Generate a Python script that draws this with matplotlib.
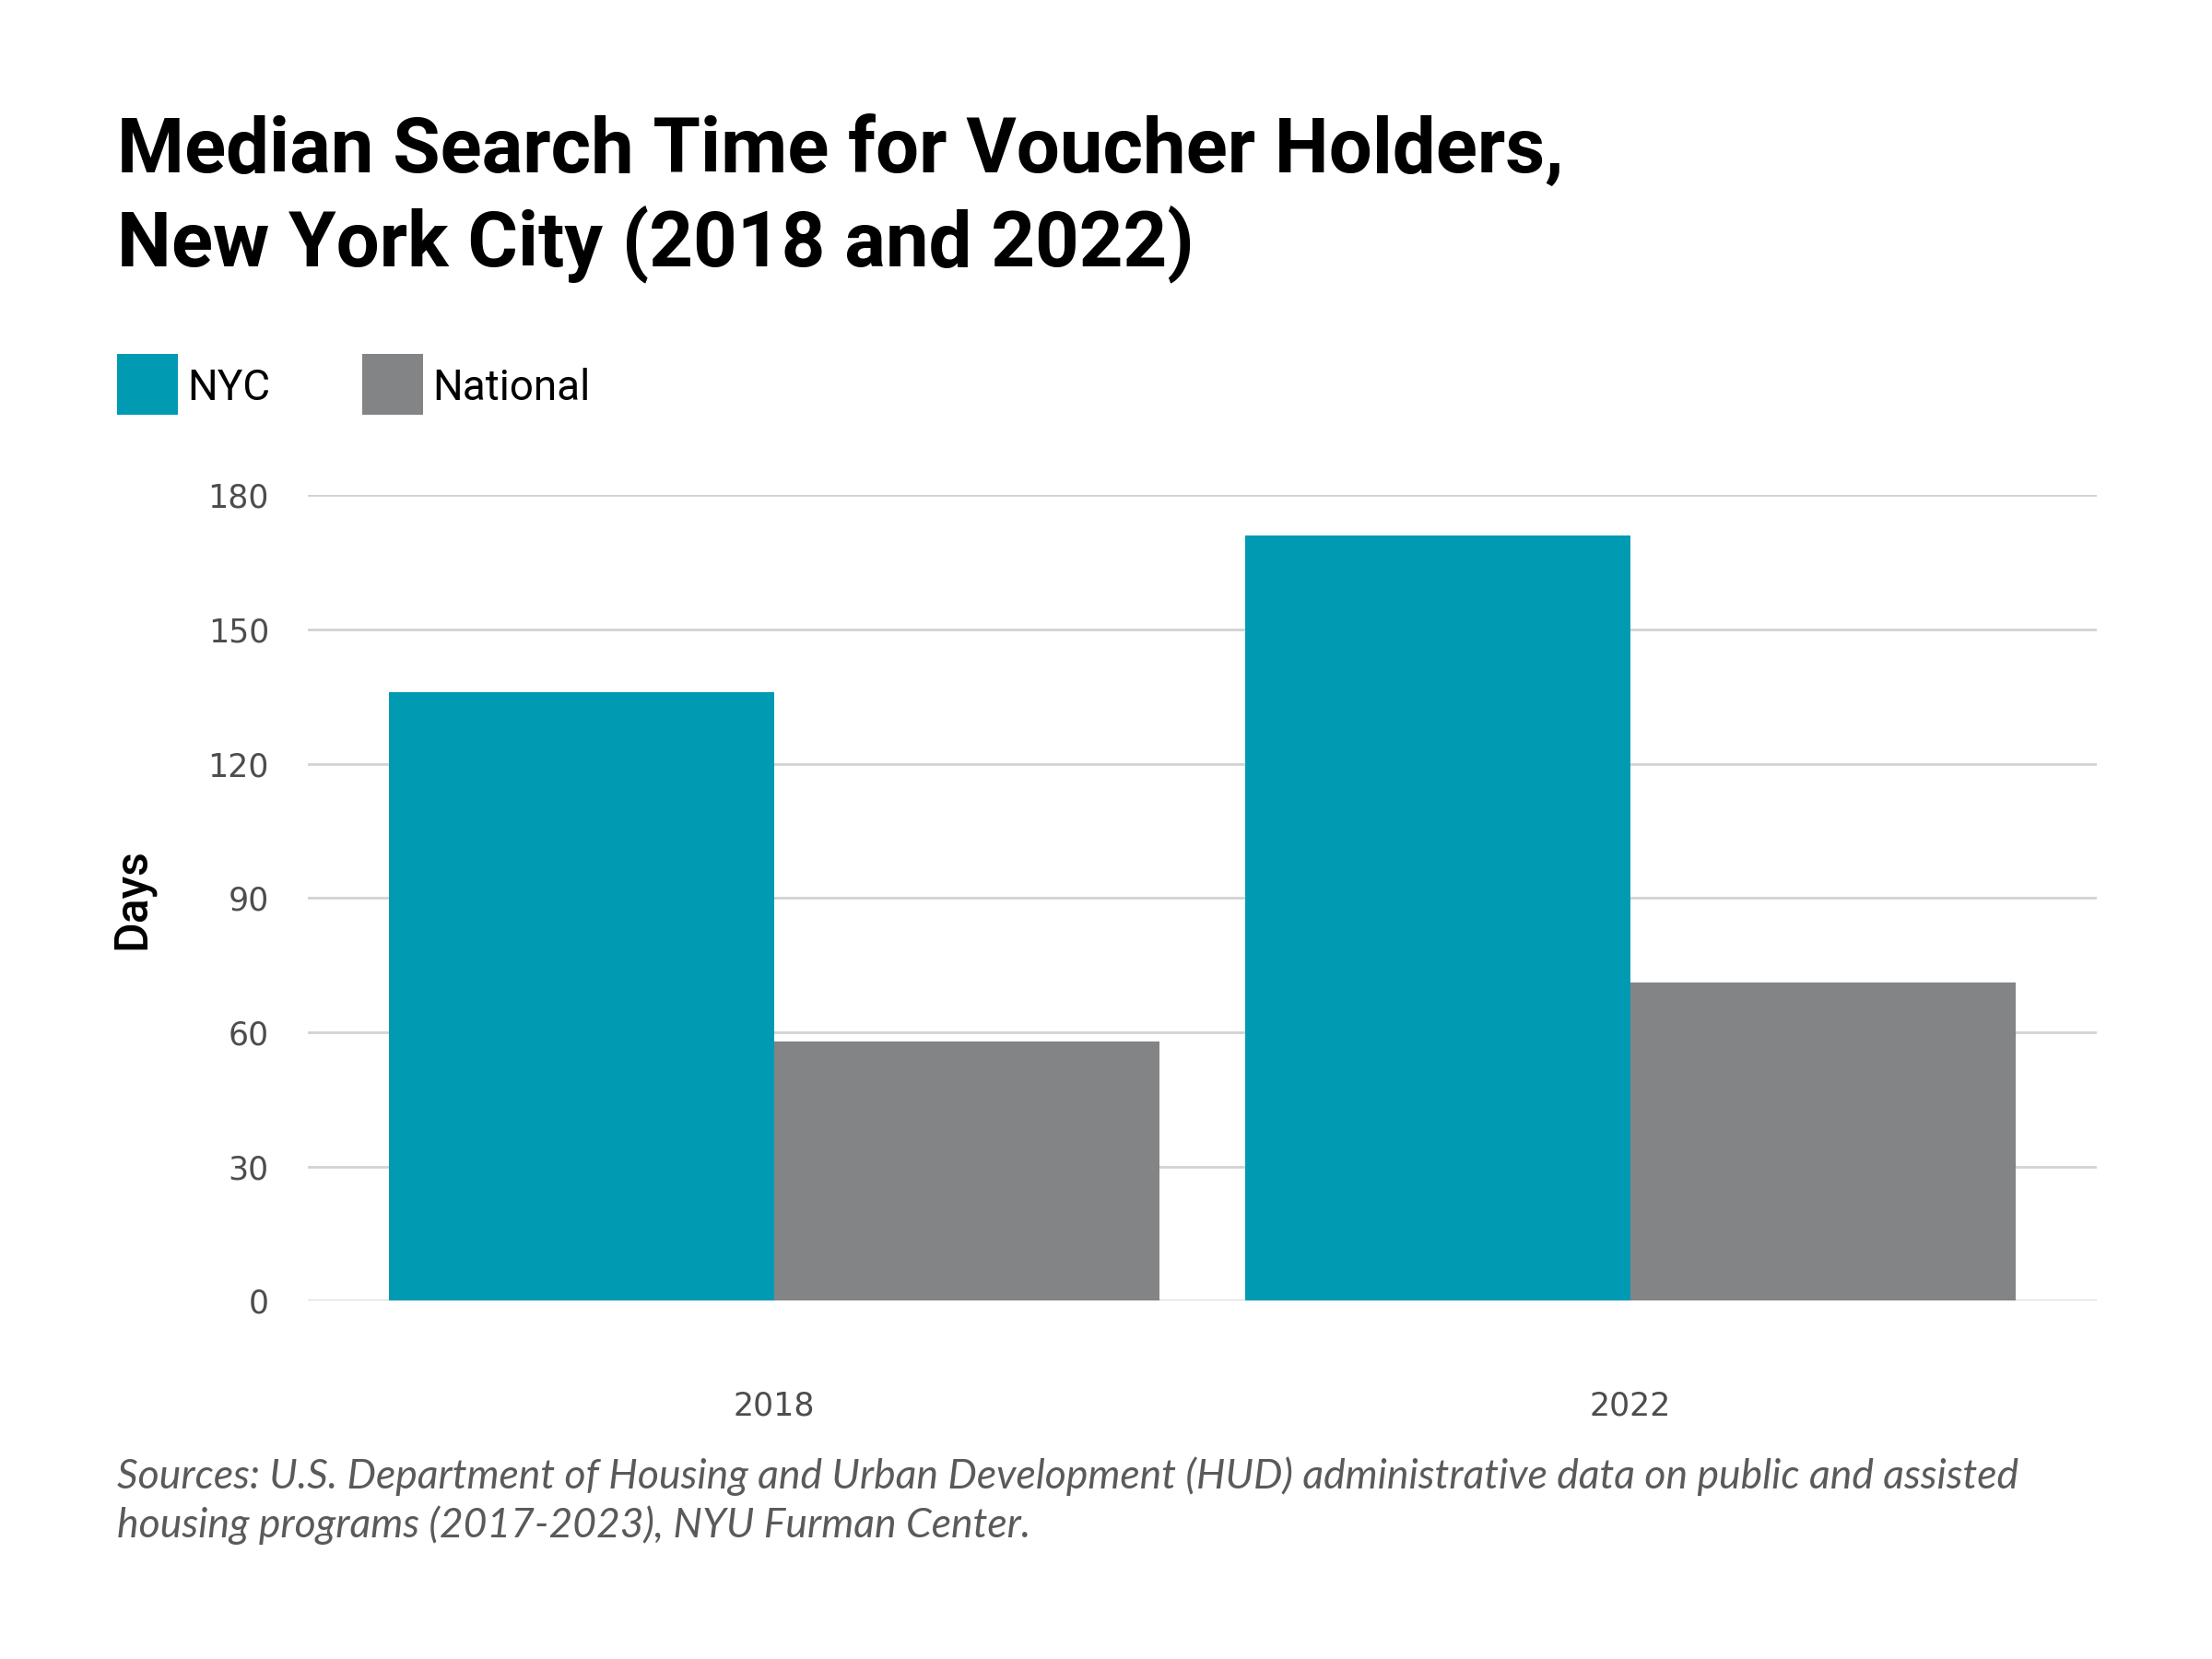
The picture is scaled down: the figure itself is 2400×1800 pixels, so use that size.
import matplotlib
matplotlib.use("Agg")
import matplotlib.pyplot as plt
import numpy as np
from matplotlib.patches import Rectangle

years = ["2018", "2022"]
series_names = ["NYC", "National"]
nyc_days = [136, 171]
national_days = [58, 71]
y_ticks = [0, 30, 60, 90, 120, 150, 180]

TEAL = "#009AB3"
GREY = "#838486"
W, H = 2400, 1800

fig = plt.figure(figsize=(24, 18), dpi=100)
fig.patch.set_facecolor("white")

ax = fig.add_axes([0.139, 0.216, 0.809, 0.4855])
x = np.arange(len(years))
w = 0.45
ax.bar(x - w / 2, nyc_days, width=w, color=TEAL, zorder=3, linewidth=0)
ax.bar(x + w / 2, national_days, width=w, color=GREY, zorder=3, linewidth=0)

ax.set_xlim(-0.545, 1.545)
ax.set_ylim(0, 180)
ax.set_yticks(y_ticks)
ax.set_yticklabels([str(t) for t in y_ticks], fontsize=25, color="#4d4d4d",
                   family="DejaVu Sans")
ax.set_xticks(x)
ax.set_xticklabels(years, fontsize=25, color="#4d4d4d", family="DejaVu Sans")
ax.tick_params(axis="y", length=0, pad=30)
ax.tick_params(axis="x", length=0, pad=70)
ax.yaxis.grid(True, color="#d3d3d3", linewidth=2, zorder=0)
ax.xaxis.grid(False)
for s in ax.spines.values():
    s.set_visible(False)

fig.text(143 / W, 0.4583, "Days", fontsize=36, family="Roboto",
         fontweight="medium", color="black", rotation=90,
         ha="center", va="center")

# Title
fig.text(127 / W, 1 - 187 / H, "Median Search Time for Voucher Holders,",
         fontsize=60, fontweight="bold", family="Roboto", color="black",
         va="baseline", ha="left")
fig.text(127 / W, 1 - 288 / H, "New York City (2018 and 2022)",
         fontsize=60, fontweight="bold", family="Roboto", color="black",
         va="baseline", ha="left")

# Legend
leg_x = [127 / W, 393 / W]
for xi, name, col in zip(leg_x, series_names, [TEAL, GREY]):
    fig.patches.append(Rectangle((xi, 1 - 450 / H), 66 / W, 66 / H,
                                 transform=fig.transFigure, color=col, lw=0))
    fig.text(xi + 76 / W, 1 - 434 / H, name, fontsize=33, family="Roboto",
             color="black", va="baseline", ha="left")

# Source
fig.text(127 / W, 1 - 1615 / H,
         "Sources: U.S. Department of Housing and Urban Development (HUD) administrative data on public and assisted",
         fontsize=32, style="italic", family="Lato",
         color="#5a5a5a", va="baseline", ha="left")
fig.text(127 / W, 1 - 1668 / H,
         "housing programs (2017-2023), NYU Furman Center.",
         fontsize=32, style="italic", family="Lato",
         color="#5a5a5a", va="baseline", ha="left")

fig.savefig("out.png", dpi=100, facecolor="white")
